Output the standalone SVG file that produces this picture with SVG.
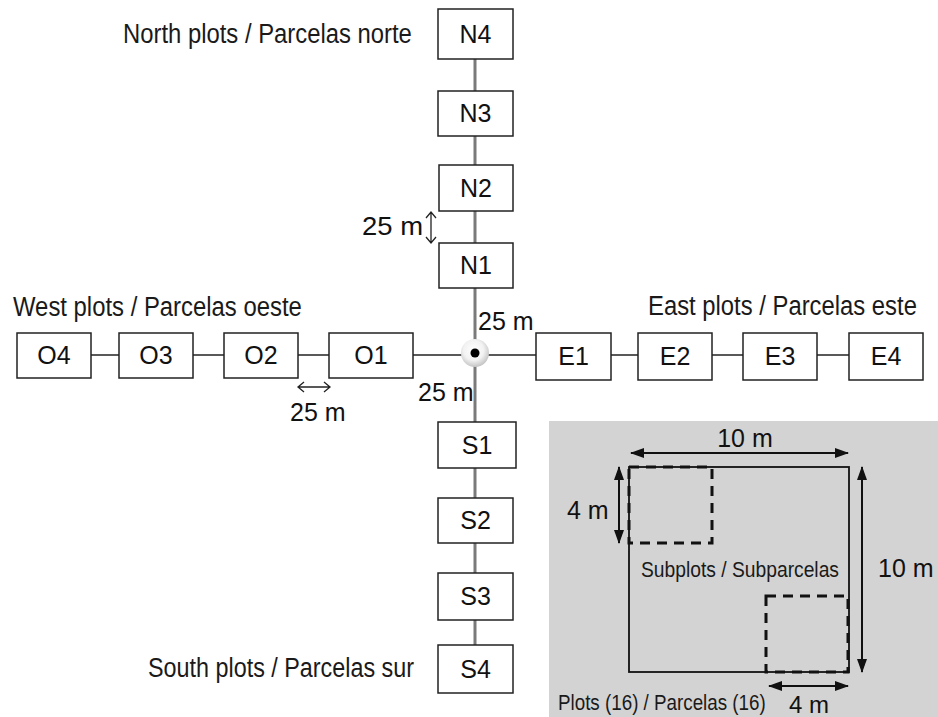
<svg xmlns="http://www.w3.org/2000/svg" width="938" height="717" viewBox="0 0 938 717">
<style>
.box{fill:#fff;stroke:#222;stroke-width:1.5}
.lbl{font-family:"Liberation Sans",Arial,sans-serif;font-size:25px;fill:#111;text-anchor:middle}
.ttl{font-family:"Liberation Sans",Arial,sans-serif;font-size:28px;fill:#1a1a1a}
.dim{font-family:"Liberation Sans",Arial,sans-serif;font-size:25px;fill:#111}
.sub{font-family:"Liberation Sans",Arial,sans-serif;font-size:22px;fill:#1a1a1a}
.vline{stroke:#7a7a7a;stroke-width:3;fill:none}
.hline{stroke:#222;stroke-width:1.5;fill:none}
.dash{fill:none;stroke:#111;stroke-width:3;stroke-dasharray:10 7}
.arr{stroke:#111;stroke-width:2;fill:none}
.thin{stroke:#222;stroke-width:1.3;fill:none}
</style>
<defs>
<marker id="tri" viewBox="0 0 14 10" refX="13" refY="5" markerWidth="14" markerHeight="10" markerUnits="userSpaceOnUse" orient="auto-start-reverse">
<path d="M0,0 L14,5 L0,10 Z" fill="#111"/>
</marker>
<radialGradient id="cg" cx="0.45" cy="0.4" r="0.6">
<stop offset="0" stop-color="#ffffff"/>
<stop offset="0.6" stop-color="#f2f2f2"/>
<stop offset="1" stop-color="#c4c4c4"/>
</radialGradient>
</defs>
<rect x="0" y="0" width="938" height="717" fill="#fff"/>

<g id="connectors">
<line class="vline" x1="475" y1="59" x2="475" y2="645"/>
<line class="hline" x1="91" y1="355" x2="849" y2="355"/>
</g>

<g id="center">
<circle cx="475" cy="353" r="14" fill="url(#cg)"/>
<circle cx="475" cy="353" r="4.5" fill="#000"/>
</g>

<g id="N4"><rect class="box" x="438" y="9" width="75" height="50"/><text class="lbl" x="475.5" y="43">N4</text></g>
<g id="N3"><rect class="box" x="438" y="91" width="75" height="45"/><text class="lbl" x="475.5" y="122">N3</text></g>
<g id="N2"><rect class="box" x="439" y="165" width="74" height="46"/><text class="lbl" x="476" y="197">N2</text></g>
<g id="N1"><rect class="box" x="439" y="243" width="74" height="45"/><text class="lbl" x="476" y="274">N1</text></g>

<g id="S1"><rect class="box" x="438" y="422" width="78" height="46"/><text class="lbl" x="477" y="454">S1</text></g>
<g id="S2"><rect class="box" x="438" y="498" width="75" height="45"/><text class="lbl" x="475.5" y="529">S2</text></g>
<g id="S3"><rect class="box" x="438" y="573" width="75" height="47"/><text class="lbl" x="475.5" y="605">S3</text></g>
<g id="S4"><rect class="box" x="438" y="645" width="75" height="48"/><text class="lbl" x="475.5" y="678">S4</text></g>

<g id="O4"><rect class="box" x="17" y="333" width="74" height="45"/><text class="lbl" x="54" y="364">O4</text></g>
<g id="O3"><rect class="box" x="119" y="333" width="74" height="45"/><text class="lbl" x="156" y="364">O3</text></g>
<g id="O2"><rect class="box" x="224" y="333" width="74" height="45"/><text class="lbl" x="261" y="364">O2</text></g>
<g id="O1"><rect class="box" x="329" y="333" width="84" height="45"/><text class="lbl" x="371" y="364">O1</text></g>

<g id="E1"><rect class="box" x="536" y="333" width="75" height="47"/><text class="lbl" x="573.5" y="365">E1</text></g>
<g id="E2"><rect class="box" x="638" y="333" width="74" height="47"/><text class="lbl" x="675" y="365">E2</text></g>
<g id="E3"><rect class="box" x="743" y="333" width="74" height="47"/><text class="lbl" x="780" y="365">E3</text></g>
<g id="E4"><rect class="box" x="849" y="333" width="74" height="47"/><text class="lbl" x="886" y="365">E4</text></g>

<g id="titles">
<text class="ttl" transform="translate(123,43) scale(0.852,1)" textLength="339" lengthAdjust="spacingAndGlyphs">North plots / Parcelas norte</text>
<text class="ttl" transform="translate(13,316) scale(0.852,1)" textLength="339" lengthAdjust="spacingAndGlyphs">West plots / Parcelas oeste</text>
<text class="ttl" transform="translate(648,315) scale(0.851,1)" textLength="316" lengthAdjust="spacingAndGlyphs">East plots / Parcelas este</text>
<text class="ttl" transform="translate(148,677) scale(0.834,1)" textLength="319" lengthAdjust="spacingAndGlyphs">South plots / Parcelas sur</text>
</g>

<g id="distances">
<text class="dim" x="362" y="235" textLength="61" lengthAdjust="spacingAndGlyphs">25 m</text>
<path class="thin" d="M431,212 L431,243 M426,218 L431,212 L436,218 M426,237 L431,243 L436,237"/>
<text class="dim" x="478" y="330">25 m</text>
<text class="dim" x="418" y="401">25 m</text>
<path class="thin" d="M298,387 L330,387 M304,382 L298,387 L304,392 M324,382 L330,387 L324,392"/>
<text class="dim" x="290" y="421">25 m</text>
</g>

<g id="inset">
<rect x="549" y="421" width="389" height="296" fill="#d3d3d3"/>
<rect x="629" y="467" width="220" height="205" fill="none" stroke="#111" stroke-width="1.8"/>
<rect class="dash" x="629" y="467" width="83" height="76"/>
<rect class="dash" x="766" y="596" width="82" height="76"/>
<line class="arr" x1="631" y1="453" x2="848" y2="453" marker-start="url(#tri)" marker-end="url(#tri)"/>
<line class="arr" x1="862" y1="467" x2="862" y2="672" marker-start="url(#tri)" marker-end="url(#tri)"/>
<line class="arr" x1="619" y1="467" x2="619" y2="543" marker-start="url(#tri)" marker-end="url(#tri)"/>
<line class="arr" x1="769" y1="686" x2="848" y2="686" marker-start="url(#tri)" marker-end="url(#tri)"/>
<text class="dim" x="745" y="447" text-anchor="middle">10 m</text>
<text class="dim" x="878" y="577">10 m</text>
<text class="dim" x="567" y="519">4 m</text>
<text class="dim" x="789" y="713" style="font-size:24px">4 m</text>
<text class="sub" transform="translate(558,710) scale(0.855,1)" textLength="243" lengthAdjust="spacingAndGlyphs">Plots (16) / Parcelas (16)</text>
<text class="sub" transform="translate(641,577) scale(0.876,1)" textLength="226" lengthAdjust="spacingAndGlyphs">Subplots / Subparcelas</text>
</g>
</svg>
